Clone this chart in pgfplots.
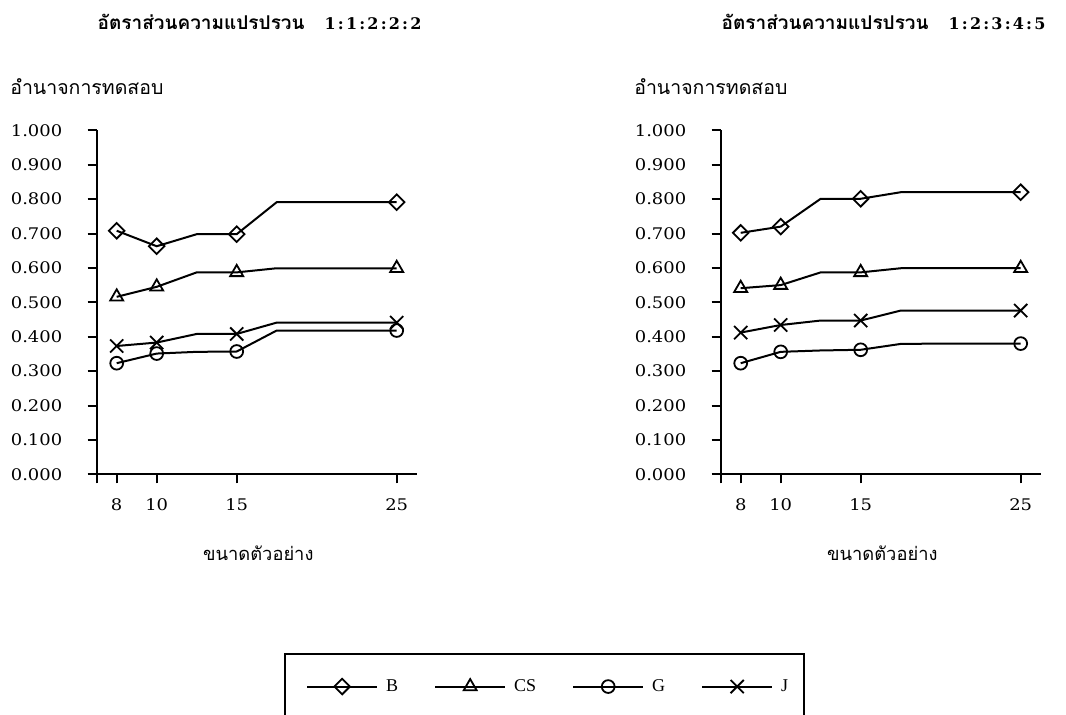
\documentclass[border=0pt]{standalone}
\usepackage{fontspec}
\usepackage{pgfplots}
\pgfplotsset{compat=1.18}
\setmainfont{DejaVu Serif}
\newfontfamily\tickfont{DejaVu Serif}[FakeStretch=1.12]
\newfontfamily\thaifont[Script=Thai]{Loma}
\newfontfamily\legfont{Liberation Serif}
\newfontfamily\titfont{DejaVu Serif}
\newcommand{\kk}{\kern2.2pt}
\pgfplotsset{
 myaxis/.style={
  scale only axis, width=320pt, height=344pt,
  xmin=0.5, xmax=8.5, ymin=0, ymax=1,
  axis x line=bottom, axis y line=left,
  axis line style={-, line width=2pt, black},
  every tick/.style={line width=2pt, black},
  tick align=outside, major tick length=9pt,
  xtick={0.5,1,2,4,8}, xticklabels={,8,10,15,25},
  ytick={0,0.1,0.2,0.3,0.4,0.5,0.6,0.7,0.8,0.9,1},
  yticklabel style={xshift=-22pt, /pgf/number format/.cd, fixed, fixed zerofill, precision=3},
  xticklabel style={yshift=-12pt},
  /pgf/number format/assume math mode=true,
  tick label style={font=\fontsize{16}{19}\selectfont\tickfont},
  every axis title/.style={at={(axis description cs:0.509,1.315)}, anchor=center},
  every axis y label/.style={at={(axis description cs:-0.281,1.126)}, anchor=west},
  every axis x label/.style={at={(axis description cs:0.505,-0.229)}, anchor=center},
  ylabel={\fontsize{19.5}{22}\selectfont\thaifont อำนาจการทดสอบ},
  xlabel={\fontsize{18.3}{21}\selectfont\thaifont ขนาดตัวอย่าง},
  clip=false,
  every axis plot/.append style={line width=2pt, black, mark indices={1,2,4,8},
     mark options={solid, fill=white, line width=1.8pt}},
  legend image code/.code={\draw[#1, mark indices={2}] plot coordinates {(0pt,0pt) (35pt,0pt) (70pt,0pt)}; \path (76pt,0pt);},
 },
 sB/.style={mark=square, mark size=5.5pt, mark options={rotate=45, solid, fill=white, line width=1.8pt}},
 sCS/.style={mark=triangle, mark size=7.5pt},
 sG/.style={mark=o, mark size=6.4pt},
 sJ/.style={mark=x, mark size=9.3pt},
}
\begin{document}
\begin{tikzpicture}
\useasboundingbox (0pt,0pt) rectangle (1066pt,-715pt);
\begin{axis}[myaxis, at={(96.7pt,-474.3pt)}, anchor=south west,
  title={\fontsize{19}{22}\selectfont{\thaifont\bfseries อัตราส่วนความแปรปรวน}\hspace{20pt}{\fontsize{16}{19}\selectfont\titfont\bfseries 1\kk:\kk1\kk:\kk2\kk:\kk2\kk:\kk2}},
  legend style={at={(axis description cs:0.654,-0.617)}, anchor=west, draw=none, fill=none,
     inner sep=0pt, font=\fontsize{18}{21}\selectfont\legfont,
     /tikz/every even column/.append style={column sep=34pt}},
  legend columns=4]
\addplot[sB] coordinates {(1,0.708) (2,0.663) (3,0.698) (4,0.698) (5,0.791) (6,0.791) (7,0.791) (8,0.791)};
\addlegendentry{B}
\addplot[sCS] coordinates {(1,0.516) (2,0.545) (3,0.587) (4,0.587) (5,0.599) (6,0.599) (7,0.599) (8,0.599)};
\addlegendentry{CS}
\addplot[sG] coordinates {(1,0.323) (2,0.351) (3,0.356) (4,0.357) (5,0.418) (6,0.418) (7,0.418) (8,0.418)};
\addlegendentry{G}
\addplot[sJ] coordinates {(1,0.373) (2,0.383) (3,0.408) (4,0.408) (5,0.441) (6,0.441) (7,0.441) (8,0.441)};
\addlegendentry{J}
\end{axis}
\begin{axis}[myaxis, at={(720.7pt,-474.3pt)}, anchor=south west,
  title={\fontsize{19}{22}\selectfont{\thaifont\bfseries อัตราส่วนความแปรปรวน}\hspace{20pt}{\fontsize{16}{19}\selectfont\titfont\bfseries 1\kk:\kk2\kk:\kk3\kk:\kk4\kk:\kk5}}]
\addplot[sB] coordinates {(1,0.702) (2,0.720) (3,0.801) (4,0.801) (5,0.820) (6,0.820) (7,0.820) (8,0.820)};
\addplot[sCS] coordinates {(1,0.541) (2,0.550) (3,0.587) (4,0.587) (5,0.599) (6,0.599) (7,0.599) (8,0.599)};
\addplot[sG] coordinates {(1,0.323) (2,0.356) (3,0.360) (4,0.362) (5,0.379) (6,0.380) (7,0.380) (8,0.380)};
\addplot[sJ] coordinates {(1,0.412) (2,0.434) (3,0.447) (4,0.447) (5,0.476) (6,0.476) (7,0.476) (8,0.476)};
\end{axis}
\draw[line width=2pt] (285pt,-740pt) |- (804pt,-654pt) -- (804pt,-740pt);
\end{tikzpicture}
\end{document}
